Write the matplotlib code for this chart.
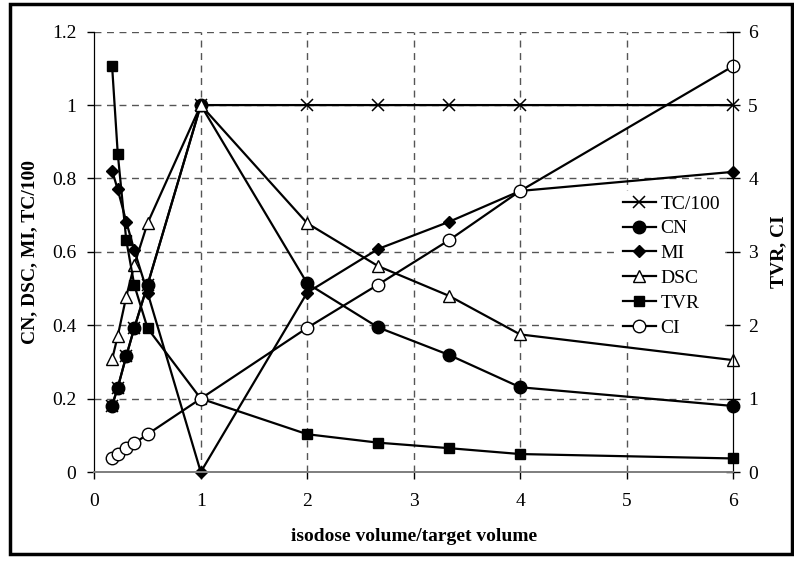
import matplotlib
matplotlib.use("Agg")
import matplotlib.pyplot as plt
from matplotlib.patches import Rectangle
from matplotlib.ticker import FormatStrFormatter, FuncFormatter

# --- DATA ---
ratio = [0.167, 0.22, 0.30, 0.375, 0.50, 1.0, 2.0, 2.667, 3.333, 4.0, 6.0]

tc100 = [0.181, 0.230, 0.316, 0.392, 0.510, 1.0, 1.0, 1.0, 1.0, 1.0, 1.0]
cn = [0.181, 0.230, 0.316, 0.392, 0.510, 1.0, 0.514, 0.394, 0.319, 0.231, 0.180]
mi = [0.821, 0.770, 0.682, 0.605, 0.489, 0.0, 0.489, 0.608, 0.682, 0.766, 0.818]
dsc = [0.307, 0.371, 0.478, 0.564, 0.678, 1.0, 0.678, 0.561, 0.480, 0.375, 0.305]
# right axis
tvr = [5.53, 4.34, 3.16, 2.55, 1.96, 1.0, 0.515, 0.40, 0.325, 0.245, 0.185]
ci = [0.185, 0.24, 0.325, 0.39, 0.515, 1.0, 1.965, 2.555, 3.16, 3.83, 5.53]

x_ticks = [0, 1, 2, 3, 4, 5, 6]
left_ticks = [0, 0.2, 0.4, 0.6, 0.8, 1.0, 1.2]
right_ticks = [0, 1, 2, 3, 4, 5, 6]

plt.rcParams["font.family"] = ["Liberation Serif", "DejaVu Serif"]
plt.rcParams["font.size"] = 14

fig = plt.figure(figsize=(7.94, 5.62), dpi=100)
ax = fig.add_axes([0.1188, 0.1601, 0.8044, 0.7835])
ax2 = ax.twinx()

lw = 1.6
kw = dict(color="black", linewidth=lw, clip_on=False)
h_tc, = ax.plot(ratio, tc100, marker="x", markersize=9, markeredgewidth=1.1, label="TC/100", **kw)
h_cn, = ax.plot(ratio, cn, marker="o", markersize=9, markerfacecolor="black", label="CN", **kw)
h_mi, = ax.plot(ratio, mi, marker="D", markersize=6.5, markerfacecolor="black", label="MI", **kw)
h_dsc, = ax.plot(ratio, dsc, marker="^", markersize=8.5, markerfacecolor="white",
                 markeredgewidth=1.0, label="DSC", **kw)
h_tvr, = ax2.plot(ratio, tvr, marker="s", markersize=7, markerfacecolor="black", label="TVR", **kw)
h_ci, = ax2.plot(ratio, ci, marker="o", markersize=9, markerfacecolor="white",
                 markeredgewidth=1.0, label="CI", **kw)

ax.set_xlim(0, 6)
ax.set_ylim(0, 1.2)
ax2.set_ylim(0, 6)
ax.set_xticks(x_ticks)
ax.set_yticks(left_ticks)
ax2.set_yticks(right_ticks)
ax.yaxis.set_major_formatter(FuncFormatter(lambda v, p: f"{v:g}"))
ax.xaxis.set_major_formatter(FormatStrFormatter("%d"))

# dashed grid
grid_kw = dict(color="#555555", linestyle=(0, (5, 4)), linewidth=1.0, zorder=0)
for v in left_ticks[1:]:
    ax.axhline(v, **grid_kw)
for v in x_ticks[1:-1]:
    ax.axvline(v, **grid_kw)

for a in (ax, ax2):
    a.spines["top"].set_visible(False)
    a.spines["left"].set_color("black")
    a.spines["right"].set_color("black")
    a.spines["bottom"].set_color("#808080")
    a.spines["bottom"].set_linewidth(1.3)
ax.tick_params(axis="x", direction="out", length=5, width=1, color="black", pad=10)
ax.tick_params(axis="y", direction="out", length=5, width=1, pad=8)
ax2.tick_params(axis="y", direction="inout", length=10, width=1, pad=6)

ax.set_xlabel("isodose volume/target volume", fontweight="bold", labelpad=13)
ax.set_ylabel("CN, DSC, MI, TC/100", fontweight="bold", labelpad=10)
ax2.set_ylabel("TVR, CI", fontweight="bold", labelpad=9)

handles = [h_tc, h_cn, h_mi, h_dsc, h_tvr, h_ci]
leg = ax2.legend(handles=handles, loc="upper left", bbox_to_anchor=(0.821, 0.638),
                 frameon=True, fancybox=False, edgecolor="white", facecolor="white",
                 framealpha=1, handlelength=1.7, handletextpad=0.26, labelspacing=0.37,
                 borderpad=0.2, borderaxespad=0)

# outer frame around the whole picture
fig.patches.append(Rectangle((0.013, 0.014), 0.984, 0.978, transform=fig.transFigure,
                             fill=False, edgecolor="black", linewidth=2.5))

fig.savefig("out.png", dpi=100)
